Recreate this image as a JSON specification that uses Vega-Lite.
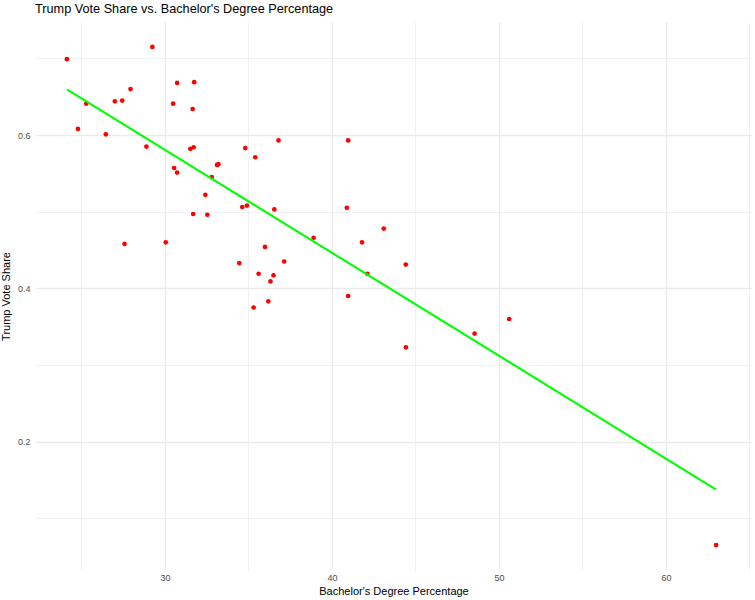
{
  "$schema": "https://vega.github.io/schema/vega-lite/v6.json",
  "width": 717,
  "height": 548,
  "autosize": "none",
  "padding": {"left": 35, "top": 22, "right": 3, "bottom": 30},
  "background": "white",
  "config": {
    "view": {"stroke": null},
    "font": "Liberation Sans"
  },
  "title": {
    "text": "Trump Vote Share vs. Bachelor's Degree Percentage",
    "anchor": "start",
    "frame": "group",
    "offset": 6,
    "fontSize": 12.7,
    "fontWeight": "normal",
    "font": "Liberation Sans",
    "color": "#000000"
  },
  "data": {
    "values": [
      {"Bachelor": 24.13, "Trump": 0.699},
      {"Bachelor": 29.25, "Trump": 0.715},
      {"Bachelor": 30.73, "Trump": 0.668},
      {"Bachelor": 31.75, "Trump": 0.669},
      {"Bachelor": 27.94, "Trump": 0.660},
      {"Bachelor": 25.29, "Trump": 0.641},
      {"Bachelor": 27.0, "Trump": 0.644},
      {"Bachelor": 27.44, "Trump": 0.645},
      {"Bachelor": 30.49, "Trump": 0.641},
      {"Bachelor": 31.66, "Trump": 0.634},
      {"Bachelor": 24.79, "Trump": 0.608},
      {"Bachelor": 26.46, "Trump": 0.601},
      {"Bachelor": 28.89, "Trump": 0.585},
      {"Bachelor": 31.52, "Trump": 0.582},
      {"Bachelor": 31.72, "Trump": 0.584},
      {"Bachelor": 36.80, "Trump": 0.593},
      {"Bachelor": 34.81, "Trump": 0.583},
      {"Bachelor": 35.41, "Trump": 0.571},
      {"Bachelor": 30.55, "Trump": 0.557},
      {"Bachelor": 30.73, "Trump": 0.551},
      {"Bachelor": 33.12, "Trump": 0.561},
      {"Bachelor": 33.20, "Trump": 0.562},
      {"Bachelor": 32.80, "Trump": 0.545},
      {"Bachelor": 32.42, "Trump": 0.522},
      {"Bachelor": 34.63, "Trump": 0.506},
      {"Bachelor": 34.91, "Trump": 0.508},
      {"Bachelor": 36.55, "Trump": 0.503},
      {"Bachelor": 31.69, "Trump": 0.497},
      {"Bachelor": 32.54, "Trump": 0.496},
      {"Bachelor": 27.58, "Trump": 0.458},
      {"Bachelor": 30.05, "Trump": 0.460},
      {"Bachelor": 35.99, "Trump": 0.454},
      {"Bachelor": 34.45, "Trump": 0.433},
      {"Bachelor": 37.14, "Trump": 0.435},
      {"Bachelor": 40.97, "Trump": 0.593},
      {"Bachelor": 40.89, "Trump": 0.505},
      {"Bachelor": 38.90, "Trump": 0.466},
      {"Bachelor": 43.10, "Trump": 0.478},
      {"Bachelor": 41.80, "Trump": 0.460},
      {"Bachelor": 42.12, "Trump": 0.419},
      {"Bachelor": 40.97, "Trump": 0.390},
      {"Bachelor": 35.61, "Trump": 0.419},
      {"Bachelor": 36.50, "Trump": 0.417},
      {"Bachelor": 36.32, "Trump": 0.409},
      {"Bachelor": 36.19, "Trump": 0.383},
      {"Bachelor": 35.31, "Trump": 0.375},
      {"Bachelor": 44.42, "Trump": 0.431},
      {"Bachelor": 48.54, "Trump": 0.341},
      {"Bachelor": 50.61, "Trump": 0.360},
      {"Bachelor": 44.43, "Trump": 0.323},
      {"Bachelor": 63.0, "Trump": 0.065}
    ]
  },
  "encoding": {
    "x": {
      "field": "Bachelor",
      "type": "quantitative",
      "scale": {"domain": [22.22, 65.15], "nice": false, "zero": false},
      "axis": {
        "title": "Bachelor's Degree Percentage",
        "values": [25, 30, 35, 40, 45, 50, 55, 60, 65],
        "labelExpr": "datum.value % 10 === 0 ? datum.label : ''",
        "domain": false,
        "ticks": false,
        "grid": true,
        "gridColor": "#EBEBEB",
        "gridWidth": {"condition": {"test": "datum.value % 10 === 0", "value": 1.4}, "value": 0.7},
        "labelFont": "Liberation Sans",
        "labelFontSize": 9,
        "labelColor": "#4D4D4D",
        "labelPadding": 3,
        "titleFont": "Liberation Sans",
        "titleFontSize": 11,
        "titleFontWeight": "normal",
        "titleColor": "#000000",
        "titlePadding": 3
      }
    },
    "y": {
      "field": "Trump",
      "type": "quantitative",
      "scale": {"domain": [0.0325, 0.7475], "nice": false, "zero": false},
      "axis": {
        "title": "Trump Vote Share",
        "values": [0.1, 0.2, 0.3, 0.4, 0.5, 0.6, 0.7],
        "format": ".1f",
        "labelExpr": "round(datum.value * 10) % 2 === 0 ? datum.label : ''",
        "domain": false,
        "ticks": false,
        "grid": true,
        "gridColor": "#EBEBEB",
        "gridWidth": {"condition": {"test": "round(datum.value * 10) % 2 === 0", "value": 1.4}, "value": 0.7},
        "labelFont": "Liberation Sans",
        "labelFontSize": 9,
        "labelColor": "#4D4D4D",
        "labelPadding": 5,
        "titleFont": "Liberation Sans",
        "titleFontSize": 11,
        "titleFontWeight": "normal",
        "titleColor": "#000000",
        "titlePadding": 6
      }
    }
  },
  "layer": [
    {
      "mark": {"type": "point", "filled": true, "color": "#FF0000", "opacity": 1, "size": 22}
    },
    {
      "transform": [{"regression": "Trump", "on": "Bachelor"}],
      "mark": {"type": "line", "color": "#00FF00", "strokeWidth": 2.1}
    }
  ]
}
